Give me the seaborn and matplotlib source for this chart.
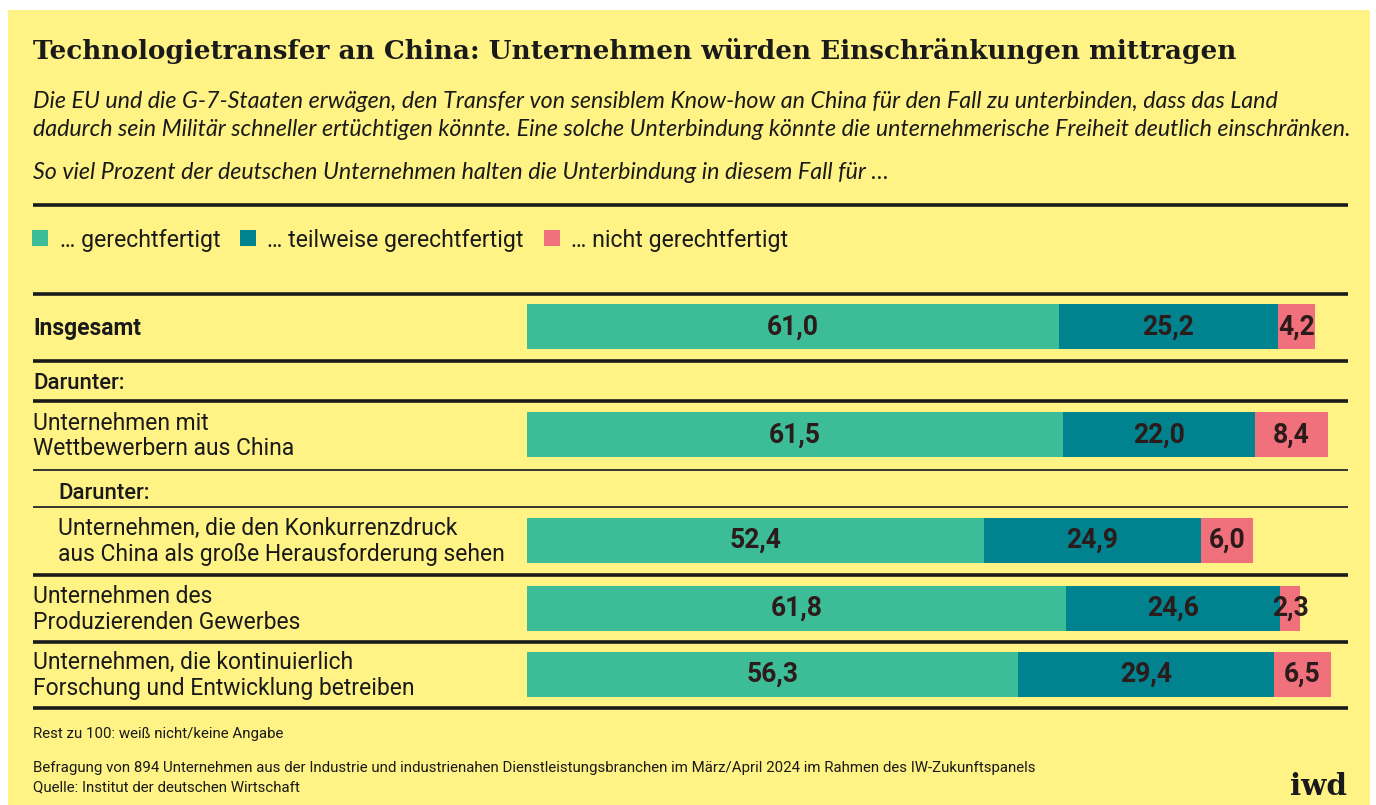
import matplotlib
matplotlib.use("Agg")
import matplotlib.pyplot as plt
import seaborn as sns
import pandas as pd
from matplotlib.patches import Rectangle, Patch
from matplotlib.lines import Line2D

# ---------------- data ----------------
title = "Technologietransfer an China: Unternehmen würden Einschränkungen mittragen"
subtitle_lines = [
    "Die EU und die G-7-Staaten erwägen, den Transfer von sensiblem Know-how an China für den Fall zu unterbinden, dass das Land",
    "dadurch sein Militär schneller ertüchtigen könnte. Eine solche Unterbindung könnte die unternehmerische Freiheit deutlich einschränken.",
]
question = "So viel Prozent der deutschen Unternehmen halten die Unterbindung in diesem Fall für …"
series_names = ["… gerechtfertigt", "… teilweise gerechtfertigt", "… nicht gerechtfertigt"]
categories = [
    "Insgesamt",
    "Unternehmen mit\nWettbewerbern aus China",
    "Unternehmen, die den Konkurrenzdruck\naus China als große Herausforderung sehen",
    "Unternehmen des\nProduzierenden Gewerbes",
    "Unternehmen, die kontinuierlich\nForschung und Entwicklung betreiben",
]
gerechtfertigt = [61.0, 61.5, 52.4, 61.8, 56.3]
teilweise = [25.2, 22.0, 24.9, 24.6, 29.4]
nicht = [4.2, 8.4, 6.0, 2.3, 6.5]
group_label = "Darunter:"
note = "Rest zu 100: weiß nicht/keine Angabe"
source_lines = [
    "Befragung von 894 Unternehmen aus der Industrie und industrienahen Dienstleistungsbranchen im März/April 2024 im Rahmen des IW-Zukunftspanels",
    "Quelle: Institut der deutschen Wirtschaft",
]
logo = "iwd"

# ---------------- style ----------------
W, H = 1376, 805
YELLOW = "#fff385"
GREEN = "#3dbd97"
TEAL = "#00838f"
PINK = "#f0707c"
INK = "#1a1a1a"
VAL_INK = "#2b1b1b"
colors = [GREEN, TEAL, PINK]

sns.set_theme(style="white")
plt.rcParams["font.family"] = ["Roboto", "DejaVu Sans"]

fig = plt.figure(figsize=(W / 100, H / 100), dpi=100, facecolor="white")
renderer = fig.canvas.get_renderer()


def fx(x):
    return x / W


def fy(y):
    return 1 - y / H


def fit(t, width_px):
    bb = t.get_window_extent(renderer)
    t.set_fontsize(t.get_fontsize() * width_px / bb.width)
    return t.get_fontsize()


def fit_size(s, width_px, **kw):
    t = fig.text(0, 0, s, fontsize=20, **kw)
    size = fit(t, width_px)
    t.remove()
    return size


# background panel
fig.patches.append(Rectangle((fx(8), 0), fx(1370) - fx(8), fy(10), transform=fig.transFigure,
                             facecolor=YELLOW, edgecolor="none", zorder=-5))


def hline(y, lw=2.6, color=INK, x0=33, x1=1348):
    fig.add_artist(Line2D([fx(x0), fx(x1)], [fy(y), fy(y)], transform=fig.transFigure,
                          color=color, lw=lw, solid_capstyle="butt", zorder=3))


# ---------------- header ----------------
ts = fit_size(title, 1204, family="DejaVu Serif", weight="bold")
fig.text(fx(33), fy(59), title, family="DejaVu Serif", weight="bold", fontsize=ts * 1.0,
         color=INK, va="baseline")

ss = fit_size(subtitle_lines[1], 1319, style="italic", family=["Lato", "DejaVu Sans"])
for s, yb in zip(subtitle_lines, [108, 136]):
    fig.text(fx(33), fy(yb), s, style="italic", family=["Lato", "DejaVu Sans"], fontsize=ss,
             color=INK, va="baseline")
fig.text(fx(33), fy(179), question, style="italic", family=["Lato", "DejaVu Sans"], fontsize=ss,
         color=INK, va="baseline")

hline(205)

# ---------------- legend ----------------
ls = fit_size(series_names[1], 255)
handles = [Patch(facecolor=c, edgecolor="none") for c in colors]
fig.legend(handles, series_names, loc="center left", bbox_to_anchor=(fx(32), fy(240)),
           ncol=3, frameon=False, fontsize=ls, handlelength=0.7, handleheight=0.7,
           handletextpad=0.5, columnspacing=0.85, borderpad=0, borderaxespad=0,
           labelcolor=INK)

hline(294)
hline(361)
hline(401)
hline(470, lw=1.4, color="#333333")
hline(507, lw=1.4, color="#333333")
hline(575)
hline(642)
hline(708)

# ---------------- rows ----------------
bar_centers = [327, 435, 540.5, 608.5, 674.5]
bar_h = 45
x0_px, x1_px = 527, 1348
xmax = 94.2

rs = fit_size("Forschung und Entwicklung betreiben", 380)
vs = fit_size("24,6", 52, weight="bold")

indent = {2: 58}
bold_rows = {0}

for i, cat in enumerate(categories):
    yc = bar_centers[i]
    ax = fig.add_axes([fx(x0_px), fy(yc + bar_h / 2), fx(x1_px) - fx(x0_px), bar_h / H])
    vals = [gerechtfertigt[i], teilweise[i], nicht[i]]
    cum = [sum(vals[:k + 1]) for k in range(3)]
    for k in [2, 1, 0]:
        df = pd.DataFrame({"cat": [cat], "v": [cum[k]]})
        sns.barplot(data=df, x="v", y="cat", orient="h", color=colors[k], width=1,
                    saturation=1, linewidth=0, ax=ax)
    ax.set_xlim(0, xmax)
    ax.set_ylim(0.5, -0.5)
    ax.axis("off")
    start = 0
    for k, v in enumerate(vals):
        ax.text(start + v / 2, 0, f"{v:.1f}".replace(".", ","), ha="center", va="center",
                fontsize=vs, weight="bold", color=VAL_INK, clip_on=False)
        start += v

    # row label
    xl = indent.get(i, 33)
    lines = cat.split("\n")
    n = len(lines)
    for j, line in enumerate(lines):
        ycl = yc + (j - (n - 1) / 2) * 25.5
        fig.text(fx(xl), fy(ycl + 7.5), line, fontsize=rs, color=INK, va="baseline",
                 weight="bold" if i in bold_rows else "normal")

# group labels
fig.text(fx(33), fy(389), group_label, fontsize=rs * 0.97, weight="medium", color=INK, va="baseline")
fig.text(fx(58), fy(499), group_label, fontsize=rs * 0.97, weight="medium", color=INK, va="baseline")

# ---------------- footer ----------------
fsz = fit_size(source_lines[0], 1003)
fig.text(fx(33), fy(738), note, fontsize=fsz, color=INK, va="baseline")
fig.text(fx(33), fy(772), source_lines[0], fontsize=fsz, color=INK, va="baseline")
fig.text(fx(33), fy(791), source_lines[1], fontsize=fsz, color=INK, va="baseline")

lg = fit_size(logo, 57, family="DejaVu Serif", weight="bold")
fig.text(fx(1347), fy(795), logo, family="DejaVu Serif", weight="bold", fontsize=lg,
         color=INK, ha="right", va="baseline")

fig.savefig("out.png", dpi=100, facecolor="white")
